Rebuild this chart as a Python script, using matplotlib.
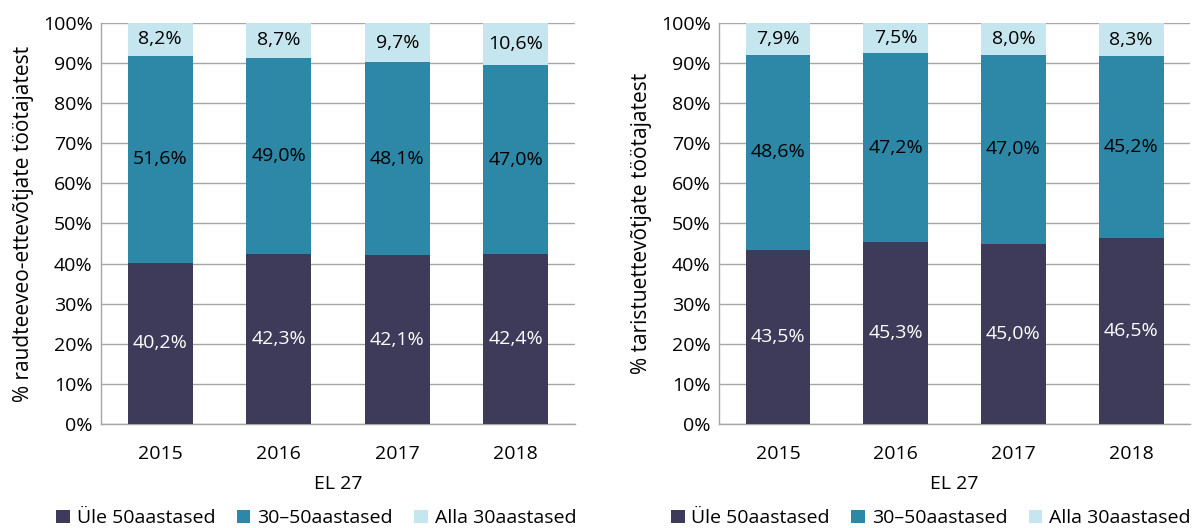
import matplotlib
matplotlib.use("Agg")
import matplotlib.pyplot as plt
from matplotlib.patches import Patch
import numpy as np

plt.rcParams['font.family'] = ['Open Sans', 'DejaVu Sans']

years = ["2015", "2016", "2017", "2018"]
series_names = ["Üle 50aastased", "30–50aastased", "Alla 30aastased"]

rail_over50 = [40.2, 42.3, 42.1, 42.4]
rail_30_50 = [51.6, 49.0, 48.1, 47.0]
rail_under30 = [8.2, 8.7, 9.7, 10.6]

infra_over50 = [43.5, 45.3, 45.0, 46.5]
infra_30_50 = [48.6, 47.2, 47.0, 45.2]
infra_under30 = [7.9, 7.5, 8.0, 8.3]

ylabels = ["% raudteeveo-ettevõtjate töötajatest", "% taristuettevõtjate töötajatest"]
xlabel = "EL 27"

colors = ["#3d3b59", "#2d87a7", "#c5e6ee"]
label_colors = ["white", "black", "black"]

fig = plt.figure(figsize=(11.98, 5.28), dpi=100)
axes_rects = [[0.0843, 0.197, 0.3957, 0.7595], [0.6002, 0.197, 0.3932, 0.7595]]
datasets = [(rail_over50, rail_30_50, rail_under30), (infra_over50, infra_30_50, infra_under30)]
legend_x = [0.264, 0.777]
FS = 14

for rect, data, ylab, lx in zip(axes_rects, datasets, ylabels, legend_x):
    ax = fig.add_axes(rect)
    x = np.arange(len(years))
    bottom = np.zeros(len(years))
    for vals, col, lc in zip(data, colors, label_colors):
        vals = np.array(vals)
        ax.bar(x, vals, 0.55, bottom=bottom, color=col, zorder=3)
        for xi, b, v in zip(x, bottom, vals):
            ax.text(xi, b + v / 2, f"{v:.1f}%".replace(".", ","), ha="center", va="center",
                    color=lc, fontsize=FS, zorder=4)
        bottom = bottom + vals
    ax.set_xlim(-0.5, len(years) - 0.5)
    ax.set_ylim(0, 100)
    ax.set_yticks(np.arange(0, 101, 10))
    ax.set_yticklabels([f"{v}%" for v in range(0, 101, 10)], fontsize=FS)
    ax.set_xticks(x)
    ax.set_xticklabels(years, fontsize=FS)
    ax.tick_params(axis='y', length=0, pad=6)
    ax.tick_params(axis='x', length=0, pad=15)
    ax.grid(axis="y", color="#a6a6a6", linewidth=1.0, zorder=0)
    for s in ["top", "right"]:
        ax.spines[s].set_visible(False)
    for s in ["left", "bottom"]:
        ax.spines[s].set_color("#a6a6a6")
        ax.spines[s].set_linewidth(1.0)
    ax.set_ylabel(ylab, fontsize=15, labelpad=6)
    ax.set_xlabel(xlabel, fontsize=FS, labelpad=9)
    handles = [Patch(facecolor=c, edgecolor="none") for c in colors]
    fig.legend(handles, series_names, loc="center", bbox_to_anchor=(lx, 0.018), ncol=3,
               frameon=False, fontsize=FS, handlelength=0.7, handleheight=0.7,
               handletextpad=0.35, columnspacing=1.1, borderaxespad=0)

fig.savefig("out.png", dpi=100)
